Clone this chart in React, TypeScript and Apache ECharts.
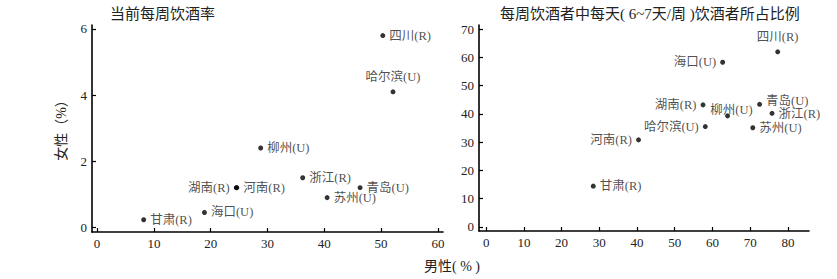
import React, { useEffect, useRef } from "react";
import * as echarts from "echarts";

const leftCities = ["四川(R)", "哈尔滨(U)", "柳州(U)", "浙江(R)", "青岛(U)", "苏州(U)", "湖南(R)", "河南(R)", "海口(U)", "甘肃(R)"];
const leftMale = [50.3, 52.1, 28.8, 36.2, 46.3, 40.5, 24.5, 24.6, 18.9, 8.2];
const leftFemale = [5.8, 4.1, 2.4, 1.5, 1.2, 0.9, 1.2, 1.2, 0.45, 0.23];

const rightCities = ["四川(R)", "海口(U)", "湖南(R)", "柳州(U)", "青岛(U)", "浙江(R)", "苏州(U)", "哈尔滨(U)", "河南(R)", "甘肃(R)"];
const rightMale = [77.3, 62.7, 57.5, 64.0, 72.5, 75.8, 70.7, 58.1, 40.4, 28.4];
const rightFemale = [62.0, 58.3, 43.2, 39.3, 43.4, 40.2, 35.1, 35.5, 30.8, 14.4];

const leftXTicks = [0, 10, 20, 30, 40, 50, 60];
const leftYTicks = [0, 2, 4, 6];
const rightXTicks = [0, 10, 20, 30, 40, 50, 60, 70, 80];
const rightYTicks = [0, 10, 20, 30, 40, 50, 60, 70];

const leftTitle = "当前每周饮酒率";
const rightTitle = "每周饮酒者中每天( 6~7天/周 )饮酒者所占比例";
const xName = "男性( % )";
const yName = "女性（%）";

const leftLabelPos: Record<string, any> = {
  "湖南(R)": { position: "left" },
  "哈尔滨(U)": { position: "top", distance: 6 },
};
const rightLabelPos: Record<string, any> = {
  "四川(R)": { position: "top", distance: 6 },
  "海口(U)": { position: "left" },
  "湖南(R)": { position: "left" },
  "柳州(U)": { position: "inside", offset: [4, -6] },
  "青岛(U)": { position: "right", offset: [0, -3] },
  "浙江(R)": { position: "right", offset: [0, 1] },
  "哈尔滨(U)": { position: "left" },
  "河南(R)": { position: "left" },
};

const FONT = "'Liberation Serif', 'Noto Sans CJK SC', serif";
const TXT = "#222";

function axisCommon(ticks: number[]) {
  return {
    type: "value",
    splitLine: { show: false },
    axisLine: { show: true, onZero: false, lineStyle: { color: "#000", width: 1.6 } },
    axisTick: { show: true, inside: true, length: 4, customValues: ticks, lineStyle: { color: "#000", width: 1.2 } },
    axisLabel: { customValues: ticks, color: TXT, fontFamily: FONT, fontSize: 13, margin: 5 },
  };
}

function buildData(cities: string[], xs: number[], ys: number[], pos: Record<string, any>) {
  return cities.map((c, i) => {
    const p = pos[c] || { position: "right" };
    return {
      name: c,
      value: [xs[i], ys[i]],
      label: { show: true, formatter: c, distance: 4, color: TXT, fontFamily: FONT, fontSize: 12.5, ...p },
    };
  });
}

export default function App() {
  const ref = useRef<HTMLDivElement>(null);
  useEffect(() => {
    if (!ref.current) return;
    const chart = echarts.init(ref.current, null, { renderer: "svg" });
    const labelStyle = { color: TXT, fontFamily: FONT, fontSize: 12.5 };
    chart.setOption({
      animation: false,
      backgroundColor: "#fff",
      textStyle: { fontFamily: FONT },
      grid: [
        { left: 92, right: 394, top: 25, bottom: 47, outerBoundsMode: "none" },
        { left: 479, right: 28, top: 25, bottom: 48, outerBoundsMode: "none" },
      ],
      xAxis: [
        { ...axisCommon(leftXTicks), gridIndex: 0, min: -0.9, max: 60.9 },
        { ...axisCommon(rightXTicks), gridIndex: 1, min: -1.9, max: 85.6 },
      ],
      yAxis: [
        { ...axisCommon(leftYTicks), gridIndex: 0, min: -0.14, max: 6.12 },
        { ...axisCommon(rightYTicks), gridIndex: 1, min: -1.5, max: 71.5 },
      ],
      series: [
        {
          type: "scatter",
          xAxisIndex: 0,
          yAxisIndex: 0,
          symbolSize: 5,
          itemStyle: { color: "#000" },
          label: labelStyle,
          data: buildData(leftCities, leftMale, leftFemale, leftLabelPos),
        },
        {
          type: "scatter",
          xAxisIndex: 1,
          yAxisIndex: 1,
          symbolSize: 5,
          itemStyle: { color: "#000" },
          label: labelStyle,
          data: buildData(rightCities, rightMale, rightFemale, rightLabelPos),
        },
      ],
      graphic: [
        { type: "text", left: 110, top: 6, style: { text: leftTitle, fill: TXT, font: `15px ${FONT}` } },
        { type: "text", left: 500, top: 6, style: { text: rightTitle, fill: TXT, font: `15px ${FONT}` } },
        { type: "text", left: 424, top: 259, style: { text: xName, fill: TXT, font: `14px ${FONT}` } },
        {
          type: "text",
          x: 61,
          y: 127,
          rotation: Math.PI / 2,
          style: { text: yName, fill: TXT, font: `14px ${FONT}`, align: "center", verticalAlign: "middle" },
        },
      ],
    });
    return () => chart.dispose();
  }, []);
  return <div ref={ref} style={{ position: "fixed", left: 0, top: 0, width: 837, height: 279 }} />;
}
